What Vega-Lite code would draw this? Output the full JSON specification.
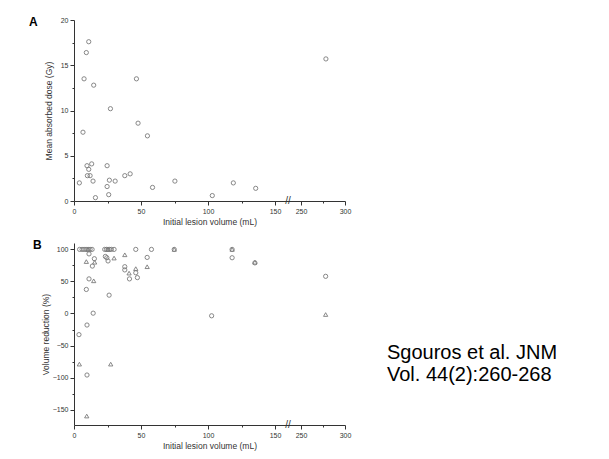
{
  "$schema": "https://vega.github.io/schema/vega-lite/v6.json",
  "background": "white",
  "padding": {"left": 29, "top": 16, "right": 5, "bottom": 5},
  "bounds": "flush",
  "spacing": 42,
  "config": {
    "view": {"stroke": null},
    "font": "Liberation Sans",
    "axis": {
      "domainColor": "#333", "tickColor": "#333", "labelColor": "#333", "titleColor": "#333",
      "labelFont": "Liberation Sans", "titleFont": "Liberation Sans",
      "labelFontSize": 7, "titleFontSize": 8.5, "titleFontWeight": "normal",
      "grid": false, "domainWidth": 1, "tickWidth": 1, "labelPadding": 2,
      "labelFlush": false, "labelOverlap": false, "labelBound": false, "labelSeparation": -1000, "tickCount": 50
    }
  },
  "datasets": {
    "dose": [
      {"volume": 4.0, "dose": 2.0}, {"volume": 6.7, "dose": 7.6}, {"volume": 7.5, "dose": 13.5},
      {"volume": 9.2, "dose": 16.4}, {"volume": 11.0, "dose": 17.6}, {"volume": 9.7, "dose": 3.9},
      {"volume": 11.0, "dose": 3.5}, {"volume": 10.0, "dose": 2.8}, {"volume": 12.0, "dose": 2.8},
      {"volume": 13.2, "dose": 4.1}, {"volume": 14.2, "dose": 2.2}, {"volume": 14.7, "dose": 12.8},
      {"volume": 16.0, "dose": 0.37}, {"volume": 24.7, "dose": 3.9}, {"volume": 24.7, "dose": 1.6},
      {"volume": 25.9, "dose": 0.7}, {"volume": 26.4, "dose": 2.3}, {"volume": 27.2, "dose": 10.2},
      {"volume": 30.7, "dose": 2.2}, {"volume": 37.9, "dose": 2.8}, {"volume": 41.9, "dose": 3.0},
      {"volume": 46.6, "dose": 13.5}, {"volume": 47.8, "dose": 8.6}, {"volume": 54.8, "dose": 7.2},
      {"volume": 58.6, "dose": 1.5}, {"volume": 75.3, "dose": 2.2}, {"volume": 103.2, "dose": 0.6},
      {"volume": 118.9, "dose": 2.0}, {"volume": 135.6, "dose": 1.4}, {"volume": 278.3, "dose": 15.7}
    ],
    "reduction": [
      {"volume": 4.2, "reduction": 100, "series": "S1"}, {"volume": 6.0, "reduction": 100, "series": "S1"},
      {"volume": 7.5, "reduction": 100, "series": "S1"}, {"volume": 9.0, "reduction": 100, "series": "S1"},
      {"volume": 10.5, "reduction": 100, "series": "S1"}, {"volume": 12.0, "reduction": 100, "series": "S1"},
      {"volume": 13.5, "reduction": 100, "series": "S1"}, {"volume": 22.9, "reduction": 100, "series": "S1"},
      {"volume": 24.2, "reduction": 100, "series": "S1"}, {"volume": 25.4, "reduction": 100, "series": "S1"},
      {"volume": 26.7, "reduction": 100, "series": "S1"}, {"volume": 27.9, "reduction": 100, "series": "S1"},
      {"volume": 29.9, "reduction": 100, "series": "S1"}, {"volume": 46.1, "reduction": 100, "series": "S1"},
      {"volume": 57.8, "reduction": 100, "series": "S1"}, {"volume": 74.8, "reduction": 100, "series": "S1"},
      {"volume": 118.0, "reduction": 100, "series": "S1"},
      {"volume": 10.5, "reduction": 100, "series": "S2"}, {"volume": 25.4, "reduction": 100, "series": "S2"},
      {"volume": 74.8, "reduction": 100, "series": "S2"}, {"volume": 118.0, "reduction": 100, "series": "S2"},
      {"volume": 11.2, "reduction": 93, "series": "S1"}, {"volume": 9.2, "reduction": 81, "series": "S2"},
      {"volume": 15.2, "reduction": 85.5, "series": "S1"}, {"volume": 15.4, "reduction": 80, "series": "S2"},
      {"volume": 13.7, "reduction": 74, "series": "S1"}, {"volume": 11.2, "reduction": 54, "series": "S1"},
      {"volume": 14.7, "reduction": 51, "series": "S2"}, {"volume": 9.2, "reduction": 37.5, "series": "S1"},
      {"volume": 14.3, "reduction": 0.5, "series": "S1"}, {"volume": 9.7, "reduction": -18, "series": "S1"},
      {"volume": 3.7, "reduction": -33, "series": "S1"}, {"volume": 4.0, "reduction": -79, "series": "S2"},
      {"volume": 9.7, "reduction": -96, "series": "S1"}, {"volume": 9.5, "reduction": -160, "series": "S2"},
      {"volume": 23.4, "reduction": 89, "series": "S1"}, {"volume": 24.5, "reduction": 87, "series": "S1"},
      {"volume": 25.4, "reduction": 82, "series": "S1"}, {"volume": 29.9, "reduction": 86.5, "series": "S2"},
      {"volume": 26.2, "reduction": 28.6, "series": "S1"}, {"volume": 27.4, "reduction": -79, "series": "S2"},
      {"volume": 37.9, "reduction": 91.6, "series": "S2"}, {"volume": 37.9, "reduction": 73, "series": "S1"},
      {"volume": 37.9, "reduction": 68, "series": "S1"}, {"volume": 41.1, "reduction": 63, "series": "S2"},
      {"volume": 41.4, "reduction": 54, "series": "S1"}, {"volume": 46.1, "reduction": 70, "series": "S2"},
      {"volume": 46.1, "reduction": 63.5, "series": "S1"}, {"volume": 47.3, "reduction": 56, "series": "S1"},
      {"volume": 54.6, "reduction": 87.5, "series": "S1"}, {"volume": 54.6, "reduction": 73, "series": "S2"},
      {"volume": 118.0, "reduction": 87, "series": "S1"}, {"volume": 135.0, "reduction": 79, "series": "S1"},
      {"volume": 135.0, "reduction": 80, "series": "S2"}, {"volume": 102.7, "reduction": -3.6, "series": "S1"},
      {"volume": 278.0, "reduction": 58, "series": "S1"}, {"volume": 278.0, "reduction": -1.6, "series": "S2"}
    ]
  },
  "vconcat": [
    {
      "width": 271,
      "height": 181,
      "title": {"text": "A", "anchor": "start", "frame": "group", "fontSize": 12, "fontWeight": "bold", "font": "Liberation Sans", "color": "#000", "dx": -45, "offset": -18, "baseline": "middle"},
      "layer": [
        {
          "data": {"name": "dose"},
          "mark": {"type": "point", "shape": "circle", "filled": false, "size": 18, "strokeWidth": 0.9, "color": "#7a7a7a", "opacity": 1},
          "encoding": {
            "x": {
              "field": "volume", "type": "quantitative",
              "scale": {"domain": [0, 150, 250, 300], "range": [0, 201, 227, 271]},
              "axis": {
                "title": "Initial lesion volume (mL)", "titlePadding": 3,
                "labelOverlap": false, "labelSeparation": -1000,
                "values": [0, 25, 50, 75, 100, 125, 150, 250, 275, 300],
                "labelExpr": "datum.value % 50 === 0 ? format(datum.value, 'd') : ''",
                "tickSize": {"condition": {"test": "datum.value % 50 === 0", "value": 4}, "value": 2}
              }
            },
            "y": {
              "field": "dose", "type": "quantitative",
              "scale": {"domain": [0, 20]},
              "axis": {
                "title": "Mean absorbed dose (Gy)", "titlePadding": 7,
                "values": [0, 2.5, 5, 7.5, 10, 12.5, 15, 17.5, 20],
                "labelExpr": "datum.value % 5 === 0 ? format(datum.value, 'd') : ''",
                "tickSize": {"condition": {"test": "datum.value % 5 === 0", "value": 4}, "value": 2}
              }
            }
          }
        },
        {
          "data": {"values": [{}]},
          "mark": {"type": "text", "text": "//", "fontSize": 10, "color": "#333", "baseline": "middle", "align": "center"},
          "encoding": {"x": {"datum": 200}, "y": {"datum": 0}}
        }
      ]
    },
    {
      "hconcat": [
        {
          "width": 271,
          "height": 182,
          "title": {"text": "B", "anchor": "start", "frame": "group", "fontSize": 12, "fontWeight": "bold", "font": "Liberation Sans", "color": "#000", "dx": -41, "offset": -14, "baseline": "middle"},
          "layer": [
            {
              "data": {"name": "reduction"},
              "mark": {"type": "point", "filled": false, "size": 18, "strokeWidth": 0.9, "color": "#7a7a7a", "opacity": 1},
              "encoding": {
                "x": {
                  "field": "volume", "type": "quantitative",
                  "scale": {"domain": [0, 150, 250, 300], "range": [0, 201, 227, 271]},
                  "axis": {
                    "title": "Initial lesion volume (mL)", "titlePadding": 3,
                    "labelOverlap": false, "labelSeparation": -1000,
                    "values": [0, 25, 50, 75, 100, 125, 150, 250, 275, 300],
                    "labelExpr": "datum.value % 50 === 0 ? format(datum.value, 'd') : ''",
                    "tickSize": {"condition": {"test": "datum.value % 50 === 0", "value": 4}, "value": 2}
                  }
                },
                "y": {
                  "field": "reduction", "type": "quantitative",
                  "scale": {"domain": [-174, 110], "nice": false},
                  "axis": {
                    "title": "Volume reduction (%)", "titlePadding": 2,
                    "values": [-150, -125, -100, -75, -50, -25, 0, 25, 50, 75, 100],
                    "labelExpr": "datum.value % 50 === 0 ? format(datum.value, 'd') : ''",
                    "tickSize": {"condition": {"test": "datum.value % 50 === 0", "value": 4}, "value": 2}
                  }
                },
                "shape": {
                  "field": "series", "type": "nominal",
                  "scale": {"domain": ["S1", "S2"], "range": ["circle", "triangle-up"]},
                  "legend": null
                }
              }
            },
            {
              "data": {"values": [{}]},
              "mark": {"type": "text", "text": "//", "fontSize": 10, "color": "#333", "baseline": "middle", "align": "center"},
              "encoding": {"x": {"datum": 200}, "y": {"datum": -174}}
            }
          ]
        },
        {
          "width": 40,
          "height": 199,
          "data": {"values": [{"citation": "Sgouros et al. JNM\nVol. 44(2):260-268"}]},
          "mark": {"type": "text", "align": "left", "baseline": "top", "lineBreak": "\n", "lineHeight": 22.5, "fontSize": 20, "font": "Liberation Sans", "color": "#000"},
          "encoding": {
            "text": {"field": "citation"}
          }
        }
      ],
      "spacing": 22,
      "bounds": "flush"
    }
  ]
}
